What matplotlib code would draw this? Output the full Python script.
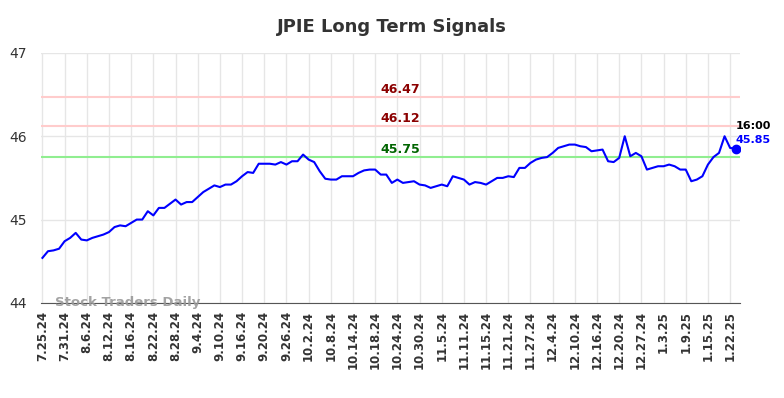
import matplotlib.pyplot as plt
import numpy as np

tick_labels = ['7.25.24', '7.31.24', '8.6.24', '8.12.24', '8.16.24', '8.22.24', '8.28.24', '9.4.24',
               '9.10.24', '9.16.24', '9.20.24', '9.26.24', '10.2.24', '10.8.24', '10.14.24', '10.18.24',
               '10.24.24', '10.30.24', '11.5.24', '11.11.24', '11.15.24', '11.21.24', '11.27.24', '12.4.24',
               '12.10.24', '12.16.24', '12.20.24', '12.27.24', '1.3.25', '1.9.25', '1.15.25', '1.22.25']

prices = [44.54, 44.62, 44.63, 44.65, 44.74, 44.78, 44.84, 44.76, 44.75, 44.78,
          44.80, 44.82, 44.85, 44.91, 44.93, 44.92, 44.96, 45.00, 45.00, 45.10,
          45.05, 45.14, 45.14, 45.19, 45.24, 45.18, 45.21, 45.21, 45.27, 45.33,
          45.37, 45.41, 45.39, 45.42, 45.42, 45.46, 45.52, 45.57, 45.56, 45.67,
          45.67, 45.67, 45.66, 45.69, 45.66, 45.70, 45.70, 45.78, 45.72, 45.69,
          45.58, 45.49, 45.48, 45.48, 45.52, 45.52, 45.52, 45.56, 45.59, 45.60,
          45.60, 45.54, 45.54, 45.44, 45.48, 45.44, 45.45, 45.46, 45.42, 45.41,
          45.38, 45.40, 45.42, 45.40, 45.52, 45.50, 45.48, 45.42, 45.45, 45.44,
          45.42, 45.46, 45.50, 45.50, 45.52, 45.51, 45.62, 45.62, 45.68, 45.72,
          45.74, 45.75, 45.80, 45.86, 45.88, 45.90, 45.90, 45.88, 45.87, 45.82,
          45.83, 45.84, 45.70, 45.69, 45.74, 46.00, 45.76, 45.80, 45.76, 45.60,
          45.62, 45.64, 45.64, 45.66, 45.64, 45.60, 45.60, 45.46, 45.48, 45.52,
          45.66, 45.75, 45.80, 46.00, 45.86, 45.85]

resistance = [46.47, 46.12]
support = 45.75
last_time = '16:00'

x = np.arange(len(prices))
tick_pos = np.arange(len(tick_labels)) * 4

fig = plt.figure(figsize=(7.84, 3.98), dpi=100)
ax = fig.add_axes([0.052, 0.239, 0.892, 0.628])

for lvl in resistance:
    ax.axhline(lvl, color='#ffcccc', lw=1.5, zorder=1)
    ax.text(64.5, lvl + 0.01, f'{lvl:.2f}', color='#8b0000', fontsize=9, fontweight='bold',
            ha='center', va='bottom')
ax.axhline(support, color='#90ee90', lw=1.5, zorder=1)
ax.text(64.5, support + 0.01, f'{support:.2f}', color='#006400', fontsize=9, fontweight='bold',
        ha='center', va='bottom')

ax.plot(x, prices, color='blue', lw=1.5, zorder=3)
ax.plot(x[-1], prices[-1], 'o', color='blue', ms=6, zorder=4)
ax.annotate(f'{prices[-1]:.2f}', (x[-1], prices[-1]), xytext=(0, 4), textcoords='offset pixels',
            color='blue', fontsize=8, fontweight='bold', ha='left', va='bottom')
ax.annotate(last_time, (x[-1], prices[-1]), xytext=(0, 18), textcoords='offset pixels',
            color='black', fontsize=8, fontweight='bold', ha='left', va='bottom')

ax.set_xlim(-0.3, 125.8)
ax.set_ylim(44, 47)
ax.set_yticks([44, 45, 46, 47])
ax.set_xticks(tick_pos)
ax.set_xticklabels(tick_labels, rotation=90, fontsize=8.5, fontweight='bold', color='#333333')
ax.tick_params(axis='y', labelsize=10, colors='#333333', length=0, pad=10)
ax.tick_params(axis='x', length=0, pad=6)
ax.grid(True, color='#e6e6e6', lw=1)
ax.set_axisbelow(True)
for s in ['top', 'right', 'left']:
    ax.spines[s].set_visible(False)
ax.spines['bottom'].set_color('#555555')

ax.text(2.2, 44.0, 'Stock Traders Daily', color='#999999', fontsize=9.5, fontweight='bold',
        ha='left', va='center', alpha=0.9)

fig.suptitle('JPIE Long Term Signals', fontsize=13, fontweight='bold', color='#333333', y=0.955)

fig.savefig('out.png', dpi=100)
